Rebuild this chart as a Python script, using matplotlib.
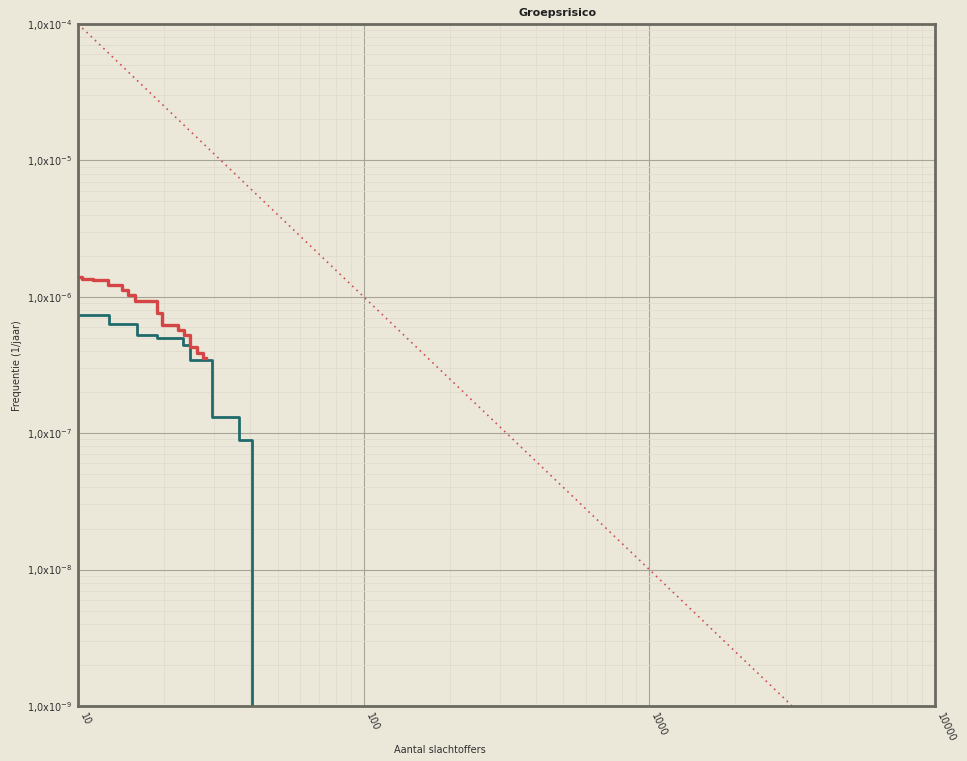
import matplotlib.pyplot as plt
import numpy as np

# Groepsrisico: FN-curves (step functions) and orientation value
# red curve
n_red = [10.0, 10.3, 11.3, 12.7, 14.3, 15.0, 15.8, 18.9, 19.7, 22.4, 23.5, 24.7, 26.1, 27.4, 28.0]
f_red = [1.40e-6, 1.35e-6, 1.33e-6, 1.22e-6, 1.12e-6, 1.03e-6, 9.3e-7, 7.6e-7,
         6.2e-7, 5.7e-7, 5.25e-7, 4.3e-7, 3.87e-7, 3.56e-7, 3.56e-7]

# teal curve
n_teal = [10.0, 12.8, 16.1, 18.9, 23.3, 24.7, 29.4, 36.6, 40.6]
f_teal = [7.36e-7, 6.32e-7, 5.25e-7, 4.99e-7, 4.43e-7, 3.44e-7, 1.31e-7, 8.9e-8, 1e-12]

# orientatiewaarde (dotted line)
norm_n = [10, 10000]
norm_f = [1e-4, 1e-10]

x_ticks = [10, 100, 1000, 10000]
x_labels = ['10', '100', '1000', '10000']
y_ticks = [1e-9, 1e-8, 1e-7, 1e-6, 1e-5, 1e-4]
y_labels = ['1,0x10$^{-9}$', '1,0x10$^{-8}$', '1,0x10$^{-7}$',
            '1,0x10$^{-6}$', '1,0x10$^{-5}$', '1,0x10$^{-4}$']

bg = '#ebe8da'
fig = plt.figure(figsize=(9.67, 7.61), dpi=100, facecolor=bg)
ax = fig.add_axes([0.0807, 0.0723, 0.8862, 0.8962], facecolor=bg)

ax.set_xscale('log')
ax.set_yscale('log')

ax.plot(norm_n, norm_f, color='#cc5050', linestyle=(0, (1, 2.5)), linewidth=1.2)
ax.step(n_teal, f_teal, where='post', color='#1f6b6b', linewidth=2.0)
ax.step(n_red, f_red, where='post', color='#d64545', linewidth=2.4)

ax.set_xlim(10, 10000)
ax.set_ylim(1e-9, 1e-4)

ax.set_xticks(x_ticks)
ax.set_xticklabels(x_labels, rotation=-65, ha='left', va='top', fontsize=7, color='#303030')
ax.set_yticks(y_ticks)
ax.set_yticklabels(y_labels, fontsize=7, color='#303030')
ax.tick_params(axis='both', which='major', length=0, pad=4)
ax.tick_params(axis='both', which='minor', length=0)

ax.grid(True, which='major', color='#a6a496', linewidth=0.8)
ax.grid(True, which='minor', color='#e0ddd0', linewidth=0.6)
ax.set_axisbelow(True)

for sp in ax.spines.values():
    sp.set_color('#6a6a60')
    sp.set_linewidth(2)

fig.text(0.577, 0.983, 'Groepsrisico', ha='center', va='center', fontsize=8, fontweight='bold', color='#202020')
fig.text(0.455, 0.0145, 'Aantal slachtoffers', ha='center', va='center', fontsize=7, color='#303030')
fig.text(0.018, 0.52, 'Frequentie (1/jaar)', ha='center', va='center', rotation=90, fontsize=7, color='#303030')

fig.savefig('out.png', dpi=100, facecolor=bg)
